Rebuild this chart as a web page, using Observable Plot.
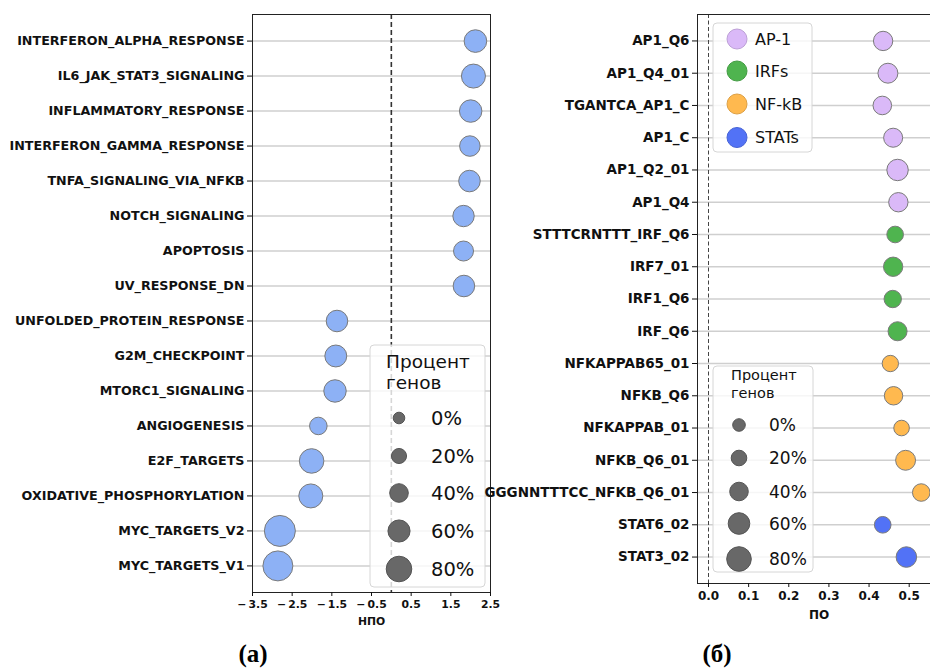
<!DOCTYPE html>
<html><head><meta charset="utf-8">
<script src="https://cdn.jsdelivr.net/npm/d3@7"></script>
<script src="https://cdn.jsdelivr.net/npm/@observablehq/plot@0.6"></script>
<style>
html,body{margin:0;padding:0;background:#fff;overflow:hidden;}
#root{position:relative;width:930px;height:668px;font-family:"DejaVu Sans",sans-serif;}
#root svg{position:absolute;top:0;background:transparent;overflow:visible;}
.panel-label{position:absolute;font-family:"Liberation Serif","DejaVu Serif",serif;font-weight:bold;font-size:25px;transform:translate(-50%,-50%);white-space:nowrap;}
</style></head><body><div id="root"></div>
<script>
// ---- Panel (а): hallmark gene sets, NES ----
const setsA = ["INTERFERON_ALPHA_RESPONSE","IL6_JAK_STAT3_SIGNALING","INFLAMMATORY_RESPONSE","INTERFERON_GAMMA_RESPONSE","TNFA_SIGNALING_VIA_NFKB","NOTCH_SIGNALING","APOPTOSIS","UV_RESPONSE_DN","UNFOLDED_PROTEIN_RESPONSE","G2M_CHECKPOINT","MTORC1_SIGNALING","ANGIOGENESIS","E2F_TARGETS","OXIDATIVE_PHOSPHORYLATION","MYC_TARGETS_V2","MYC_TARGETS_V1"];
const nesA = [2.12, 2.07, 2.00, 1.98, 1.97, 1.82, 1.82, 1.83, -1.37, -1.40, -1.42, -1.84, -2.01, -2.03, -2.81, -2.86];
const pctA = [63, 71, 62, 51, 57, 56, 48, 57, 57, 59, 62, 34, 74, 71, 111, 105];
const xTicksA = [-3.5, -2.5, -1.5, -0.5, 0.5, 1.5, 2.5];

// ---- Panel (б): TF motifs, ES ----
const motifsB = ["AP1_Q6","AP1_Q4_01","TGANTCA_AP1_C","AP1_C","AP1_Q2_01","AP1_Q4","STTTCRNTTT_IRF_Q6","IRF7_01","IRF1_Q6","IRF_Q6","NFKAPPAB65_01","NFKB_Q6","NFKAPPAB_01","NFKB_Q6_01","GGGNNTTTCC_NFKB_Q6_01","STAT6_02","STAT3_02"];
const esB = [0.435, 0.447, 0.433, 0.460, 0.471, 0.473, 0.465, 0.460, 0.459, 0.471, 0.453, 0.461, 0.481, 0.491, 0.530, 0.434, 0.493];
const pctB = [45, 49, 40, 43, 59, 45, 27, 45, 32, 43, 25, 39, 20, 49, 33, 27, 53];
const familyB = ["AP-1","AP-1","AP-1","AP-1","AP-1","AP-1","IRFs","IRFs","IRFs","IRFs","NF-kB","NF-kB","NF-kB","NF-kB","NF-kB","STATs","STATs"];
const xTicksB = [0, 0.1, 0.2, 0.3, 0.4, 0.5];

const families = ["AP-1","IRFs","NF-kB","STATs"];
const familyColors = ["#dab9f8","#4fb44f","#ffb94f","#5272f6"];
const sizeTicks = [0, 20, 40, 60, 80];
const sizeLabel = ["Процент", "генов"];

const rowsA = setsA.map((s, i) => ({set: s, nes: nesA[i], pct: pctA[i]}));
const rowsB = motifsB.map((m, i) => ({motif: m, es: esB[i], pct: pctB[i], fam: familyB[i]}));

const fmtA = d => (d < 0 ? "\u2212\u2009" : "") + Math.abs(d).toFixed(1);
const fmtB = d3.format(".1f");

const root = document.getElementById("root");

const plotA = Plot.plot({
  width: 500, height: 640,
  marginLeft: 252, marginRight: 10, marginTop: 14, marginBottom: 48,
  style: {background: "transparent", fontFamily: "DejaVu Sans", color: "#111"},
  x: {domain: [-3.5, 2.5]},
  y: {type: "point", domain: setsA, padding: 0.76, round: false},
  r: {type: "linear", domain: [0, 80], range: [5.8, 12.8]},
  marks: [
    Plot.ruleY(setsA, {stroke: "#cfcfcf", strokeWidth: 1.5}),
    Plot.ruleX([0], {stroke: "#333", strokeWidth: 1.6, strokeDasharray: "5,3"}),
    Plot.dot(rowsA, {x: "nes", y: "set", r: "pct", fill: "#8db1f5", stroke: "#7a7a7a", strokeWidth: 1}),
    Plot.frame({stroke: "#222", strokeWidth: 1}),
    Plot.axisY({tickSize: 5, tickPadding: 3, fontSize: 12.7, fontWeight: "bold", label: null}),
    Plot.axisX({ticks: xTicksA, tickFormat: fmtA, tickSize: 4, tickPadding: 4, fontSize: 10.8, fontWeight: "bold",
      label: "НПО", labelAnchor: "center", labelOffset: 32, labelArrow: "none"})
  ]
});
plotA.style.left = "0px";
root.appendChild(plotA);

const plotB = Plot.plot({
  width: 470, height: 640,
  marginLeft: 227, marginRight: 0, marginTop: 14, marginBottom: 57,
  style: {background: "transparent", fontFamily: "DejaVu Sans", color: "#111"},
  x: {domain: [-11 / 401.4, 232 / 401.4]},
  y: {type: "point", domain: motifsB, padding: 0.82, round: false},
  r: {type: "linear", domain: [0, 80], range: [6.3, 12.3]},
  color: {domain: families, range: familyColors},
  marks: [
    Plot.ruleY(motifsB, {stroke: "#cfcfcf", strokeWidth: 1.5}),
    Plot.ruleX([0], {stroke: "#444", strokeWidth: 1, strokeDasharray: "4,2.5"}),
    Plot.dot(rowsB, {x: "es", y: "motif", r: "pct", fill: "fam", stroke: "#7a7a7a", strokeWidth: 1}),
    Plot.frame({stroke: "#222", strokeWidth: 1}),
    Plot.axisY({tickSize: 5, tickPadding: 3, fontSize: 13.5, fontWeight: "bold", label: null}),
    Plot.axisX({ticks: xTicksB, tickFormat: fmtB, tickSize: 4, tickPadding: 4, fontSize: 12, fontWeight: "bold",
      label: "ПО", labelAnchor: "center", labelOffset: 35, labelArrow: "none"})
  ]
});
plotB.style.left = "470px";
root.appendChild(plotB);

// ---- legends (drawn with d3 into the plot SVGs, radii from the plots' r scales) ----
function sizeLegend(svg, rScale, o) {
  const g = d3.select(svg).append("g").attr("font-family", "DejaVu Sans").attr("fill", "#111")
    .attr("text-anchor", "start").attr("font-weight", "normal");
  g.append("rect").attr("x", o.x).attr("y", o.y).attr("width", o.w).attr("height", o.h).attr("rx", 4)
    .attr("fill", "#fff").attr("fill-opacity", 0.8).attr("stroke", "#d6d6d6");
  sizeLabel.forEach((t, i) => g.append("text").attr("x", o.tx).attr("y", o.ty[i]).attr("font-size", o.titleSize).text(t));
  sizeTicks.forEach((v, i) => {
    g.append("circle").attr("cx", o.cx).attr("cy", o.cy[i]).attr("r", rScale.apply(v))
      .attr("fill", "#686868").attr("stroke", "#555").attr("stroke-width", 1);
    g.append("text").attr("x", o.lx).attr("y", o.cy[i]).attr("dy", "0.36em").attr("font-size", o.labelSize).text(v + "%");
  });
}
sizeLegend(plotA, plotA.scale("r"), {
  x: 370, y: 345, w: 115, h: 242, tx: 386, ty: [368, 389], titleSize: 18.5,
  cx: 399, cy: [418, 456, 493, 531, 569], lx: 431, labelSize: 19.5
});
const offB = 470;
sizeLegend(plotB, plotB.scale("r"), {
  x: 713 - offB, y: 366, w: 100, h: 206, tx: 731 - offB, ty: [380, 398], titleSize: 14.5,
  cx: 739 - offB, cy: [425, 458, 491.5, 523.5, 559], lx: 769 - offB, labelSize: 17
});
(function colorLegend(svg) {
  const g = d3.select(svg).append("g").attr("font-family", "DejaVu Sans").attr("fill", "#111")
    .attr("text-anchor", "start").attr("font-weight", "normal");
  g.append("rect").attr("x", 713 - offB).attr("y", 23).attr("width", 99).attr("height", 129).attr("rx", 4)
    .attr("fill", "#fff").attr("fill-opacity", 0.8).attr("stroke", "#d6d6d6");
  const cys = [39, 71, 104, 137.5];
  const color = svg.scale("color");
  families.forEach((f, i) => {
    g.append("circle").attr("cx", 737 - offB).attr("cy", cys[i]).attr("r", 10)
      .attr("fill", color.apply(f)).attr("stroke", d3.color(color.apply(f)).darker(0.4)).attr("stroke-width", 1);
    g.append("text").attr("x", 755 - offB).attr("y", cys[i]).attr("dy", "0.36em").attr("font-size", 16).text(f);
  });
})(plotB);

// panel labels
const la = document.createElement("div"); la.className = "panel-label"; la.textContent = "(а)";
la.style.left = "253px"; la.style.top = "654px"; root.appendChild(la);
const lb = document.createElement("div"); lb.className = "panel-label"; lb.textContent = "(б)";
lb.style.left = "717px"; lb.style.top = "654px"; root.appendChild(lb);
</script></body></html>
